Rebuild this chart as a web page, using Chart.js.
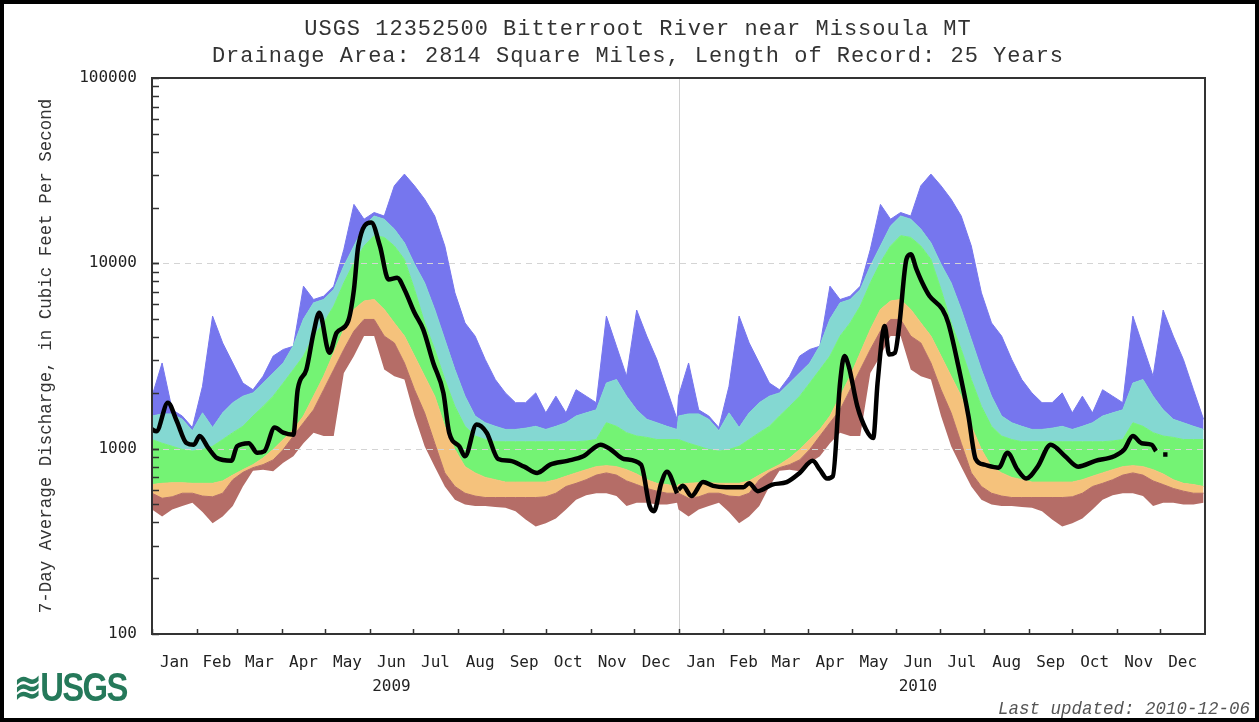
<!DOCTYPE html>
<html>
<head>
<meta charset="utf-8">
<title>USGS 12352500 Bitterroot River near Missoula MT</title>
<script src="https://cdn.jsdelivr.net/npm/chart.js@4.4.1/dist/chart.umd.min.js"></script>
<style>
    body { margin: 0; background: #fff; }
    #page { position: relative; width: 1259px; height: 722px; overflow: hidden; background: #fff; }
    #frame { position: absolute; left: 0; top: 0; width: 1259px; height: 722px; box-sizing: border-box;
             border: 4px solid #000; pointer-events: none; }
    #chart { position: absolute; left: 0; top: 0; }
    .title { position: absolute; left: 0; width: 1276px; text-align: center; white-space: nowrap;
             font-family: 'Liberation Mono', monospace; font-size: 22px; line-height: 26px;
             letter-spacing: 1px; color: #333; }
    #updated { position: absolute; right: 9px; top: 699px; white-space: nowrap;
               font-family: 'Liberation Mono', monospace; font-style: italic; font-size: 17.5px;
               color: #555; }
    #logo { position: absolute; left: 14px; top: 664px; white-space: nowrap; color: #25795a;
            font-family: 'Liberation Sans', Arial, sans-serif; font-weight: bold; font-size: 40px;
            letter-spacing: -2px; transform: scaleX(0.82); transform-origin: left top; }
</style>
</head>
<body>
<div id="page">
    <canvas id="chart" width="1259" height="722"></canvas>
    <div class="title" style="top:17px">USGS 12352500 Bitterroot River near Missoula MT</div>
    <div class="title" style="top:44px">Drainage Area: 2814 Square Miles, Length of Record: 25 Years</div>
    <div id="logo">&#8779;USGS</div>
    <div id="updated">Last updated: 2010-12-06</div>
    <div id="frame"></div>
</div>
<script>
// Daily statistics (same for both years) at weekly steps
const statDays = [0, 7, 14, 21, 28, 35, 42, 49, 56, 63, 70, 77, 84, 91, 98, 105, 112, 119, 126, 133,
    140, 147, 154, 161, 168, 175, 182, 189, 196, 203, 210, 217, 224, 231, 238, 245, 252, 259, 266, 273,
    280, 287, 294, 301, 308, 315, 322, 329, 336, 343, 350, 357, 364];

const minFlow = [470, 430, 470, 490, 510, 455, 396, 430, 490, 625, 760, 770, 755, 840, 910, 1070, 1220, 1170, 1170, 2560,
    3160, 4050, 4050, 2670, 2460, 2360, 1500, 1030, 800, 625, 530, 500, 490, 490, 485, 480, 460, 415, 380, 396,
    420, 470, 530, 560, 575, 575, 555, 490, 510, 510, 500, 500, 510];

const p10Flow = [575, 540, 550, 575, 575, 555, 550, 575, 680, 745, 790, 820, 870, 990, 1170, 1380, 1620, 2080, 2670, 3430,
    4310, 4980, 4980, 4050, 3720, 2900, 2080, 1560, 1070, 740, 625, 575, 555, 545, 545, 545, 545, 545, 545, 550,
    575, 625, 650, 680, 720, 740, 720, 670, 640, 610, 590, 575, 575];

const p25Flow = [640, 650, 655, 655, 650, 650, 650, 670, 720, 770, 820, 890, 990, 1120, 1270, 1500, 1920, 2460, 3290, 4400,
    5640, 6260, 6380, 5640, 4770, 4050, 3160, 2460, 1920, 1320, 990, 800, 740, 700, 680, 660, 660, 660, 660, 660,
    680, 710, 740, 770, 800, 810, 800, 770, 730, 680, 650, 640, 625];

const p75Flow = [1120, 1070, 1030, 990, 970, 990, 1030, 1120, 1220, 1320, 1500, 1690, 1920, 2260, 2670, 3160, 4050, 4770, 5880, 7850,
    10100, 12400, 14100, 13800, 12400, 10500, 7230, 4770, 3430, 2360, 1690, 1320, 1170, 1120, 1090, 1090, 1090, 1090, 1090, 1090,
    1090, 1090, 1090, 1100, 1120, 1380, 1320, 1220, 1170, 1150, 1120, 1120, 1120];

const p90Flow = [1500, 1540, 1540, 1440, 1250, 1560, 1300, 1560, 1770, 1920, 2000, 2260, 2560, 2900, 3600, 5000, 6120, 6380, 7230, 9680,
    12400, 15900, 18000, 17300, 15300, 12900, 9900, 7850, 5640, 3880, 2670, 1920, 1500, 1380, 1320, 1270, 1270, 1290, 1320, 1270,
    1320, 1380, 1500, 1560, 1620, 2260, 2360, 1920, 1620, 1440, 1380, 1320, 1270];

const maxFlow = [1920, 2900, 1620, 1500, 1300, 2170, 5190, 3720, 2900, 2260, 2080, 2460, 3160, 3430, 3570, 7530, 6380, 6650, 7530, 11900,
    20800, 17300, 18800, 18000, 26200, 30300, 26200, 22200, 18000, 12400, 6930, 4770, 4050, 3030, 2360, 2000, 1770, 1770, 2000, 1560,
    1920, 1560, 2080, 1920, 1770, 5190, 3570, 2460, 5600, 4050, 3030, 2080, 1440];

// 7-day average discharge, day of year and value
const flow2009Days = [0, 3, 11, 17, 24, 29, 33, 39, 45, 55, 59, 67, 73, 78, 85, 91, 98, 101, 107, 112,
    116, 123, 128, 136, 140, 143, 152, 158, 164, 170, 175, 182, 188, 195, 202, 206, 213, 217, 225, 232,
    240, 248, 258, 267, 276, 288, 299, 311, 318, 327, 339, 345, 348, 353, 357, 364];
const flow2009 = [1270, 1240, 1770, 1420, 1070, 1050, 1170, 1010, 890, 860, 1030, 1070, 950, 970, 1300, 1220, 1190, 2080, 2670, 4220,
    5410, 3290, 4220, 4880, 7230, 12400, 16600, 12400, 8190, 8370, 7230, 5410, 4400, 2900, 2000, 1220, 1030, 910, 1350, 1220,
    880, 860, 800, 740, 820, 860, 910, 1050, 990, 880, 820, 490, 460, 650, 750, 575];

const flow2010Days = [0, 3, 9, 17, 24, 33, 45, 49, 55, 65, 75, 84, 93, 98, 103, 107, 112, 115, 118, 124,
    130, 135, 138, 143, 146, 150, 153, 158, 161, 165, 169, 174, 183, 187, 194, 201, 206, 212, 222, 228,
    235, 241, 249, 258, 268, 277, 289, 302, 309, 315, 321, 328, 331, 333, 336, 339];
const flow2010 = [600, 630, 555, 660, 630, 620, 620, 650, 590, 640, 660, 740, 860, 770, 690, 710, 2260, 3160, 2790, 1690,
    1270, 1140, 2260, 4590, 3220, 3290, 4590, 10500, 11180, 9270, 7850, 6660, 5640, 4770, 2790, 1500, 880, 820, 790, 950,
    770, 690, 800, 1050, 910, 800, 860, 910, 990, 1170, 1070, 1050, 970, null, 930, 930];

const monthNames = ['Jan', 'Feb', 'Mar', 'Apr', 'May', 'Jun', 'Jul', 'Aug', 'Sep', 'Oct', 'Nov', 'Dec'];
const monthLengths = [31, 28, 31, 30, 31, 30, 31, 31, 30, 31, 30, 31];
const yearLabels = ['2009', '2010'];
const yTickValues = [100, 1000, 10000, 100000];
const dashedValues = [1000, 10000];

// band colours, lowest to highest
const bandColors = ['#b56d67', '#f5c27c', '#74f374', '#84d8d2', '#7676ee'];

function bandPoints(values) {
    var pts = [];
    yearLabels.forEach(function (yr, i) {
        statDays.forEach(function (d, j) {
            pts.push({ x: i * 365 + d, y: values[j] });
        });
    });
    return pts;
}

function flowPoints(days, values, offset) {
    return days.map(function (d, i) { return { x: offset + d, y: values[i] }; });
}

// month boundaries (tick marks) and mid-month positions (labels)
var monthStarts = [];
var monthMids = [];
var start = 0;
yearLabels.forEach(function () {
    monthLengths.forEach(function (len) {
        monthStarts.push(start);
        monthMids.push(start + len / 2);
        start += len;
    });
});
const totalDays = start;

function bandDataset(values, i) {
    return {
        data: bandPoints(values),
        borderColor: i < 0 ? 'rgba(0,0,0,0)' : bandColors[i],
        backgroundColor: i < 0 ? 'rgba(0,0,0,0)' : bandColors[i],
        borderWidth: 1,
        pointRadius: 0,
        fill: i < 0 ? false : '-1',
        order: 1
    };
}

function flowDataset(days, values, offset) {
    return {
        data: flowPoints(days, values, offset),
        borderColor: '#000',
        borderWidth: 4.5,
        pointRadius: 0,
        fill: false,
        cubicInterpolationMode: 'monotone',
        spanGaps: false,
        isFlow: true,
        order: 0
    };
}

var gridDrawn = false;

const decorations = {
    id: 'decorations',
    beforeDraw: function () { gridDrawn = false; },
    beforeDatasetsDraw: function (chart) {
        // divider between the two years
        const ctx = chart.ctx, area = chart.chartArea;
        const px = Math.round(chart.scales.x.getPixelForValue(365)) + 0.5;
        ctx.save();
        ctx.strokeStyle = '#d0d0d0';
        ctx.lineWidth = 1;
        ctx.beginPath();
        ctx.moveTo(px, area.top);
        ctx.lineTo(px, area.bottom);
        ctx.stroke();
        ctx.restore();
    },
    beforeDatasetDraw: function (chart, args) {
        // dashed grid lines over the bands, under the flow line
        if (gridDrawn || !chart.data.datasets[args.index].isFlow) return;
        gridDrawn = true;
        const ctx = chart.ctx, area = chart.chartArea, y = chart.scales.y;
        ctx.save();
        ctx.strokeStyle = '#d4d4d4';
        ctx.lineWidth = 1;
        ctx.setLineDash([6, 5]);
        dashedValues.forEach(function (v) {
            const py = Math.round(y.getPixelForValue(v)) + 0.5;
            ctx.beginPath();
            ctx.moveTo(area.left, py);
            ctx.lineTo(area.right, py);
            ctx.stroke();
        });
        ctx.restore();
    },
    afterDraw: function (chart) {
        const ctx = chart.ctx, area = chart.chartArea;
        const x = chart.scales.x, y = chart.scales.y;
        ctx.save();
        ctx.strokeStyle = '#333';
        ctx.lineWidth = 1.5;
        // inward ticks on the log axis
        for (var p = 100; p < 100000; p *= 10) {
            for (var k = 1; k <= 10; k++) {
                const py = Math.round(y.getPixelForValue(p * k)) + 0.5;
                ctx.beginPath();
                ctx.moveTo(area.left, py);
                ctx.lineTo(area.left + 7, py);
                ctx.stroke();
            }
        }
        // month boundary ticks
        monthStarts.forEach(function (d) {
            const px = Math.round(x.getPixelForValue(d)) + 0.5;
            ctx.beginPath();
            ctx.moveTo(px, area.bottom);
            ctx.lineTo(px, area.bottom - 5);
            ctx.stroke();
        });
        // plot frame
        ctx.lineWidth = 2;
        ctx.strokeRect(area.left, area.top, area.right - area.left, area.bottom - area.top);
        ctx.restore();
    }
};

document.addEventListener('DOMContentLoaded', function () {
    Chart.defaults.font.family = "'DejaVu Sans Mono', monospace";
    Chart.defaults.color = '#222';

    new Chart(document.getElementById('chart'), {
        type: 'line',
        data: {
            datasets: [
                bandDataset(minFlow, -1),
                bandDataset(p10Flow, 0),
                bandDataset(p25Flow, 1),
                bandDataset(p75Flow, 2),
                bandDataset(p90Flow, 3),
                bandDataset(maxFlow, 4),
                flowDataset(flow2009Days, flow2009, 0),
                flowDataset(flow2010Days, flow2010, 365)
            ]
        },
        options: {
            responsive: false,
            animation: false,
            devicePixelRatio: 1,
            layout: { padding: { top: 78, right: 54, bottom: 18, left: 0 } },
            plugins: {
                legend: { display: false },
                tooltip: { enabled: false }
            },
            scales: {
                x: {
                    type: 'linear',
                    min: 0,
                    max: totalDays,
                    grid: { display: false, drawTicks: false },
                    border: { display: false },
                    afterBuildTicks: function (axis) {
                        axis.ticks = monthMids.map(function (v) { return { value: v }; });
                    },
                    afterFit: function (axis) { axis.height = 70; },
                    ticks: {
                        autoSkip: false,
                        maxRotation: 0,
                        minRotation: 0,
                        padding: 17,
                        font: { size: 16, lineHeight: 1.5 },
                        callback: function (value, index) {
                            const m = index % 12;
                            if (m === 5) return [monthNames[m], yearLabels[Math.floor(index / 12)]];
                            return monthNames[m];
                        }
                    }
                },
                y: {
                    type: 'logarithmic',
                    min: 100,
                    max: 100000,
                    grid: { display: false, drawTicks: false },
                    border: { display: false },
                    afterBuildTicks: function (axis) {
                        axis.ticks = yTickValues.map(function (v) { return { value: v }; });
                    },
                    afterFit: function (axis) { axis.width = 152; },
                    ticks: {
                        padding: 15,
                        font: { size: 16 },
                        callback: function (value) { return String(value); }
                    },
                    title: {
                        display: true,
                        text: '7-Day Average Discharge, in Cubic Feet Per Second',
                        font: { family: "'Liberation Mono', monospace", size: 17.5 },
                        color: '#333',
                        padding: { top: 36, bottom: 0 }
                    }
                }
            }
        },
        plugins: [decorations]
    });
});
</script>
</body>
</html>
